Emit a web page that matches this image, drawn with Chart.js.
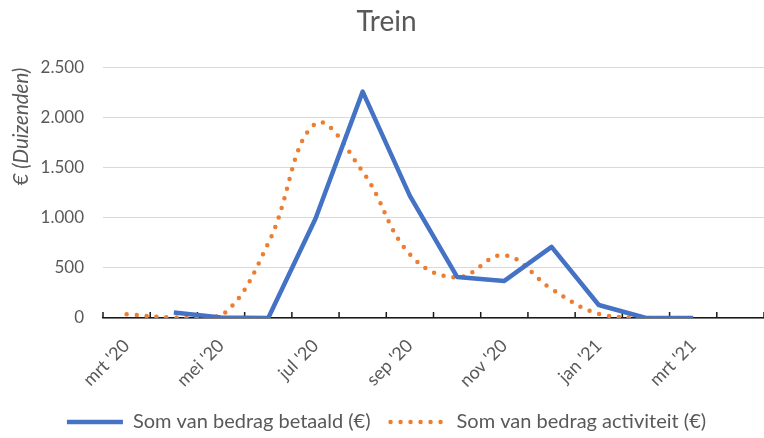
<!DOCTYPE html>
<html>
<head>
<meta charset="utf-8">
<script src="https://cdn.jsdelivr.net/npm/chart.js@4.4.0/dist/chart.umd.min.js"></script>
<style>
body{margin:0;background:#fff;}
#wrap{width:764px;height:438px;}
</style>
</head>
<body>
<div id="wrap"><canvas id="treinChart"></canvas></div>
<script>
// maanden (categorieen) en de twee reeksen
const maanden = ["mrt '20","apr '20","mei '20","jun '20","jul '20","aug '20","sep '20",
  "okt '20","nov '20","dec '20","jan '21","feb '21","mrt '21","apr '21"];
const betaald = [null, 55, 5, 0, 990, 2260, 1220, 410, 370, 710, 130, 0, 0, null];
const activiteit = [37, 5, 20, 745, 1940, 1460, 635, 405, 627, 290, 40, 0, 0, null];
const yTicks = [0, 500, 1000, 1500, 2000, 2500];

const blauw = '#4472C4';
const oranje = '#ED7D31';
const grijs = '#595959';
const fontNaam = 'Lato, "Open Sans", sans-serif';

function punten(v) {
  return String(v).replace(/\B(?=(\d{3})+(?!\d))/g, '.');
}

// kleine streepjes naar binnen op de x-as, tussen de maanden
const binnenTicks = {
  id: 'binnenTicks',
  beforeDatasetsDraw(chart) {
    const x = chart.scales.x;
    const ctx = chart.ctx;
    const stap = x.width / maanden.length;
    ctx.save();
    ctx.strokeStyle = '#1a1a1a';
    ctx.lineWidth = 1.5;
    ctx.beginPath();
    for (let i = 0; i <= maanden.length; i++) {
      const px = x.left + i * stap;
      ctx.moveTo(px, x.top);
      ctx.lineTo(px, x.top - 6);
    }
    ctx.stroke();
    ctx.restore();
  }
};

const ctx = document.getElementById('treinChart');

new Chart(ctx, {
  type: 'line',
  data: {
    labels: maanden,
    datasets: [{
      label: 'Som van bedrag betaald (€)',
      data: betaald,
      borderColor: blauw,
      backgroundColor: blauw,
      borderWidth: 4.5,
      pointRadius: 0,
      pointStyle: 'line',
      tension: 0,
      borderJoinStyle: 'round'
    }, {
      label: 'Som van bedrag activiteit (€)',
      data: activiteit,
      borderColor: oranje,
      backgroundColor: oranje,
      borderWidth: 4.5,
      borderDash: [0, 10],
      borderCapStyle: 'round',
      pointRadius: 0,
      pointStyle: 'line',
      tension: 0.4
    }]
  },
  options: {
    responsive: true,
    maintainAspectRatio: false,
    animation: false,
    layout: { padding: { left: 9, right: 0, top: 0, bottom: -4 } },
    plugins: {
      title: {
        display: true,
        text: 'Trein',
        color: grijs,
        font: { family: fontNaam, size: 28, weight: 'normal' },
        padding: { top: 5, bottom: 29 }
      },
      legend: {
        position: 'bottom',
        labels: {
          usePointStyle: true,
          pointStyleWidth: 56,
          boxWidth: 56,
          padding: 20,
          color: grijs,
          font: { family: fontNaam, size: 20 },
          generateLabels(chart) {
            const items = Chart.defaults.plugins.legend.labels.generateLabels(chart);
            items.forEach((it) => {
              const ds = chart.data.datasets[it.datasetIndex];
              it.lineDash = ds.borderDash || [];
              it.lineCap = ds.borderCapStyle || 'butt';
              it.lineWidth = ds.borderWidth;
              it.strokeStyle = ds.borderColor;
            });
            return items;
          }
        }
      },
      tooltip: { enabled: false }
    },
    scales: {
      x: {
        offset: true,
        grid: { display: false, drawTicks: false },
        border: { display: true, color: '#1a1a1a', width: 1.5 },
        afterFit: (s) => { s.paddingLeft = 0; s.paddingRight = 0; s.height = 74; },
        ticks: {
          autoSkip: false,
          minRotation: 45,
          maxRotation: 45,
          padding: 17,
          color: grijs,
          font: { family: fontNaam, size: 18 },
          callback: (v, i) => (i % 2 === 0 ? maanden[i] : '')
        }
      },
      y: {
        min: 0,
        max: 2500,
        afterBuildTicks: (s) => { s.ticks = yTicks.map(v => ({ value: v })); },
        afterFit: (s) => { s.width = 94; },
        grid: { color: '#d9d9d9', lineWidth: 1, drawTicks: false },
        border: { display: false },
        ticks: {
          padding: 19,
          color: grijs,
          font: { family: fontNaam, size: 17 },
          callback: (v) => punten(v)
        },
        title: {
          display: true,
          text: '€ (Duizenden)',
          align: 'end',
          color: grijs,
          font: { family: fontNaam, size: 20.5, style: 'italic' },
          padding: { top: 0, bottom: 0 }
        }
      }
    }
  },
  plugins: [binnenTicks]
});
</script>
</body>
</html>
